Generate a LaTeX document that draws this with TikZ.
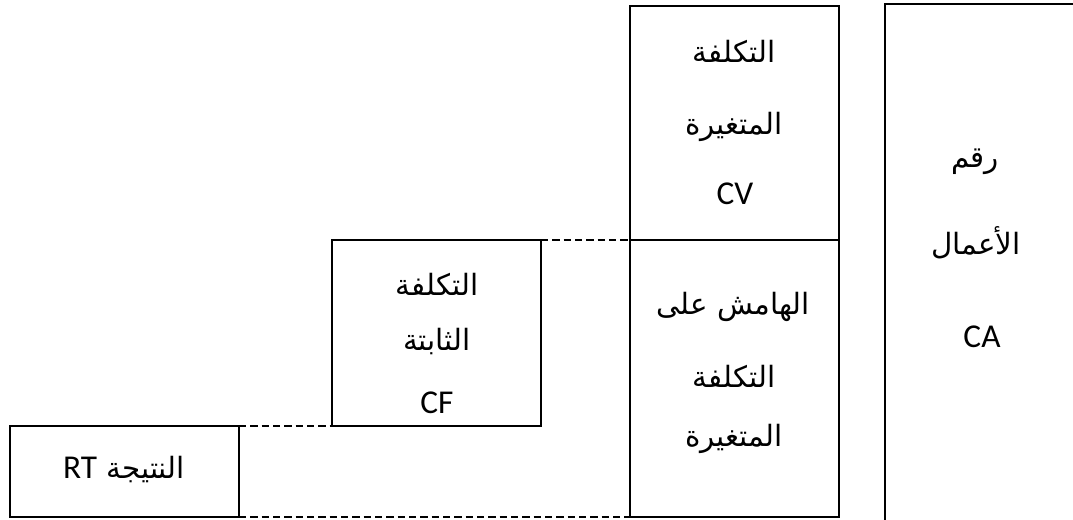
\documentclass[tikz,border=0pt]{standalone}
\usepackage{fontspec}
\setmainfont{Carlito}
\newfontfamily\arabicfont[Script=Arabic]{DejaVu Sans}
\TeXXeTstate=1
\newcommand{\ar}[1]{{\arabicfont\beginR #1\endR}}
\def\px{0.75pt}
\tikzset{
  cell/.style={draw, line width=2.1pt, inner sep=0pt, outer sep=0pt},
  link/.style={line width=1.3pt, dash pattern=on 5.5pt off 3pt},
  lbl/.style={inner sep=0pt, font=\fontsize{22}{24}\selectfont},
  lat/.style={inner sep=0pt, font=\fontsize{25}{27}\selectfont}
}
\begin{document}
\begin{tikzpicture}[x=\px, y=-\px]
\useasboundingbox (0,0) rectangle (1073,519);
\clip (0,0) rectangle (1073,519);
% boxes
\node[cell, minimum width=209*\px, minimum height=234*\px] (cv) at (734.5,123) {};
\node[cell, minimum width=209*\px, minimum height=277*\px] (mcv) at (734.5,378.5) {};
\node[cell, minimum width=209*\px, minimum height=186*\px] (cf) at (436.5,333) {};
\node[cell, minimum width=229*\px, minimum height=91*\px] (rt) at (124.5,471.5) {};
\node[cell, minimum width=220*\px, minimum height=540*\px] (ca) at (995,274) {};
% dashed guides
\draw[link] (cf.north east) -- (cv.south west);
\draw[link] (rt.north east) -- (cf.south west);
\draw[link] (rt.south east) -- (mcv.south west);
% labels: variable cost
\node[lbl] (cv1) at (734,51) {\ar{التكلفة}};
\node[lbl] (cv2) at (734,127) {\ar{المتغيرة}};
\node[lat] (cv3) at (735,194) {CV};
% labels: turnover
\node[lbl] (ca1) at (975,162) {\ar{رقم}};
\node[lbl] (ca2) at (976,243) {\ar{الأعمال}};
\node[lat] (ca3) at (982,337) {CA};
% labels: contribution margin
\node[lbl] (m1) at (733,307) {\ar{الهامش على}};
\node[lbl] (m2) at (734,376) {\ar{التكلفة}};
\node[lbl] (m3) at (734,439) {\ar{المتغيرة}};
% labels: fixed cost
\node[lbl] (cf1) at (437,284) {\ar{التكلفة}};
\node[lbl] (cf2) at (437,341) {\ar{الثابتة}};
\node[lat] (cf3) at (437,403) {CF};
% label: result
\node[lbl] (rt1) at (124,469) {\ar{النتيجة \beginL{\normalfont\fontsize{25}{27}\selectfont RT}\endL}};
\end{tikzpicture}
\end{document}
